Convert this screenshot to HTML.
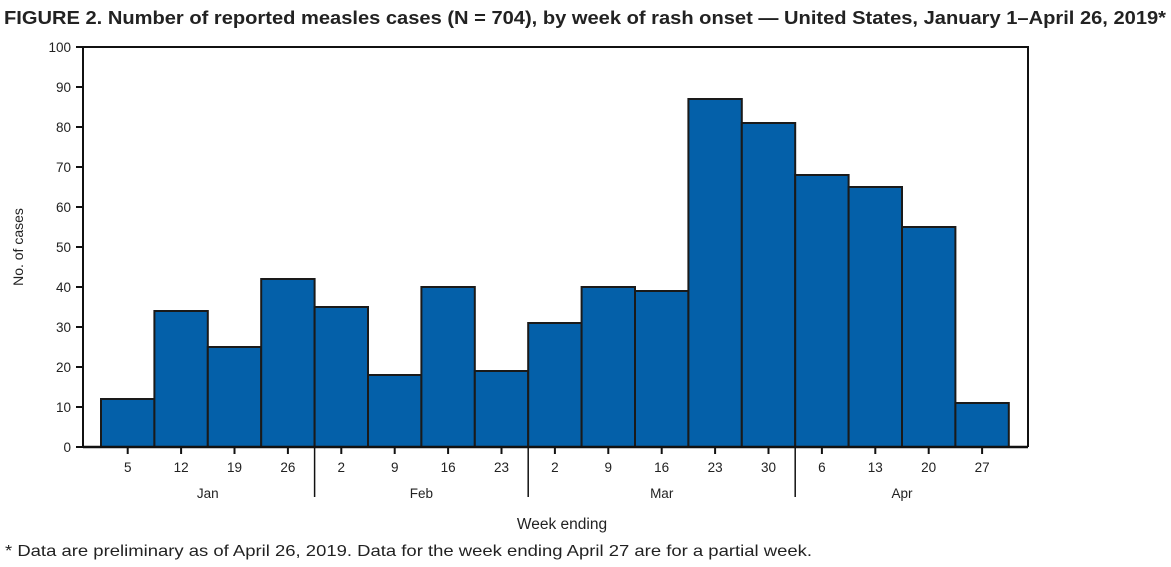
<!DOCTYPE html>
<html><head><meta charset="utf-8"><style>
body{margin:0;background:#fff;width:1171px;height:562px;overflow:hidden;font-family:"Liberation Sans",sans-serif}
</style></head><body>
<svg width="1171" height="562" xmlns="http://www.w3.org/2000/svg">
<text x="4" y="24" font-size="18" font-weight="bold" fill="#222" textLength="1162" lengthAdjust="spacingAndGlyphs">FIGURE 2. Number of reported measles cases (N = 704), by week of rash onset — United States, January 1–April 26, 2019*</text>
<g id="yaxis"></g>
<g id="bars"></g>
<g id="xaxis"></g>
<text x="23" y="247" font-size="14" fill="#222" text-anchor="middle" transform="rotate(-90 23 247)">No. of cases</text>
<text x="562" y="529" font-size="15.5" fill="#222" text-anchor="middle">Week ending</text>
<text x="5" y="556" font-size="16" fill="#222" textLength="807" lengthAdjust="spacingAndGlyphs">* Data are preliminary as of April 26, 2019. Data for the week ending April 27 are for a partial week.</text>
</svg>
<script>
const weeks=["5","12","19","26","2","9","16","23","2","9","16","23","30","6","13","20","27"];
const cases=[12,34,25,42,35,18,40,19,31,40,39,87,81,68,65,55,11];
const months=["Jan","Feb","Mar","Apr"];
const monthStarts=[0,4,8,13];
const yTicks=[0,10,20,30,40,50,60,70,80,90,100];
const NS="http://www.w3.org/2000/svg";
const L=83,R=1028,T=47,B=447,x0=101,bw=53.4;
const y=v=>B-(B-T)*v/100;
const x=i=>x0+i*bw;
function mk(tag,attrs,parent,txt){const e=document.createElementNS(NS,tag);for(const k in attrs)e.setAttribute(k,attrs[k]);if(txt!==undefined)e.textContent=txt;parent.appendChild(e);return e;}
const ya=document.getElementById('yaxis'),bg=document.getElementById('bars'),xa=document.getElementById('xaxis');
yTicks.forEach(v=>{
 const t=mk('line',{x1:L-7,x2:L,y1:y(v),y2:y(v),stroke:'#111','stroke-width':2},ya);
 
 
 const l=mk('text',{x:L-12,y:y(v)+5,'font-size':13.5,'text-anchor':'end',fill:'#222'},ya,v);
 
 
});
cases.forEach((v,i)=>{
 const r=mk('rect',{x:x(i),y:y(v),width:bw,height:B-y(v),fill:'#0460a9',stroke:'#1a1a1a','stroke-width':2},bg);
 
 
});
const fr=mk('path',{d:`M${L},${B}V${T}H${R}V${B}`,fill:'none',stroke:'#111','stroke-width':2},xa);


const xl=mk('line',{x1:L,x2:R,y1:B,y2:B,stroke:'#111','stroke-width':2.5},xa);


weeks.forEach((w,i)=>{
 const cx=x(i)+bw/2;
 const t=mk('line',{x1:cx,x2:cx,y1:B,y2:B+7,stroke:'#111','stroke-width':2},xa);
 
 
 const l=mk('text',{x:cx,y:B+25,'font-size':13.5,'text-anchor':'middle',fill:'#222'},xa,w);
 
 
});
months.forEach((m,k)=>{
 const s=monthStarts[k],e=k+1<monthStarts.length?monthStarts[k+1]:weeks.length;
 if(k>0){const d=mk('line',{x1:x(s),x2:x(s),y1:B,y2:B+50,stroke:'#111','stroke-width':1.5},xa);
 
 }
 const l=mk('text',{x:(x(s)+x(e))/2,y:B+51,'font-size':13.5,'text-anchor':'middle',fill:'#222'},xa,m);
 
 
});
</script>
</body></html>
